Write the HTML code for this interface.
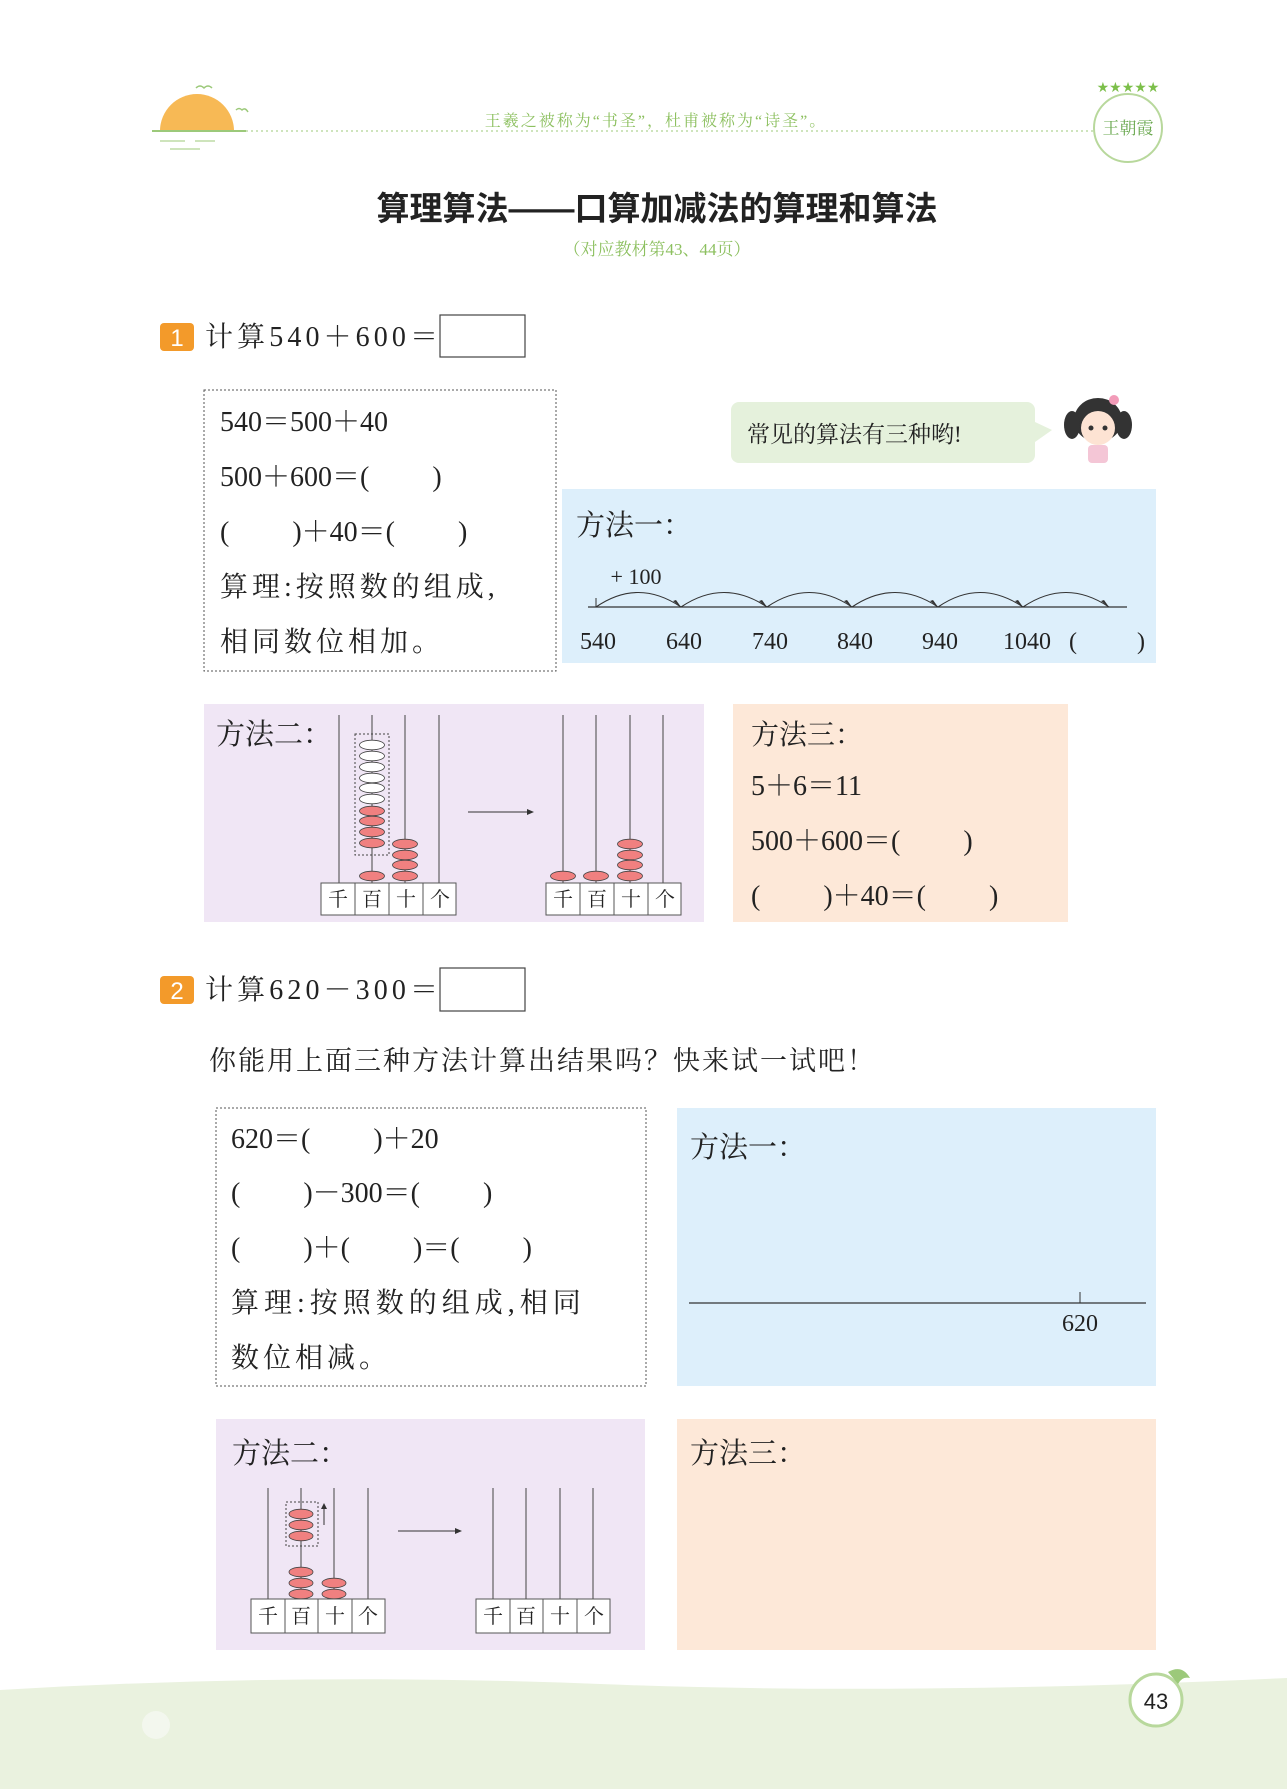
<!DOCTYPE html>
<html><head><meta charset="utf-8"><style>
html,body{margin:0;padding:0;background:#fff;}
svg{display:block;}
.s{font-family:"Liberation Serif","Noto Serif CJK SC",serif;}
.c{font-family:"Liberation Serif","Noto Serif CJK SC",serif;}
</style></head><body>
<svg width="1287" height="1789" viewBox="0 0 1287 1789" xmlns="http://www.w3.org/2000/svg">
<path d="M0 1690 Q300 1672 600 1684 T1287 1678 L1287 1789 L0 1789 Z" fill="#eaf2df"/>
<circle cx="156" cy="1725" r="14" fill="#f3f7ee"/>
<circle cx="1156" cy="1700" r="26" fill="#fff" stroke="#b8d89c" stroke-width="3"/>
<text x="1156" y="1709" font-family="Liberation Sans,sans-serif" font-size="22" text-anchor="middle" fill="#222">43</text>
<path d="M1168 1672 q14 -8 22 6 q-8 -2 -12 6z" fill="#9cc97a"/>

<path d="M160 131 A37 37 0 0 1 234 131 Z" fill="#f7b955"/>
<line x1="152" y1="131" x2="246" y2="131" stroke="#9cc97a" stroke-width="2"/>
<line x1="160" y1="141" x2="185" y2="141" stroke="#9cc97a"/><line x1="195" y1="141" x2="215" y2="141" stroke="#9cc97a"/>
<line x1="170" y1="149" x2="200" y2="149" stroke="#9cc97a"/>
<path d="M196 88 q4 -4 8 0 q4 -4 8 0" fill="none" stroke="#9cc97a" stroke-width="1.5"/>
<path d="M236 110 q3 -3 6 0 q3 -3 6 2" fill="none" stroke="#9cc97a" stroke-width="1.5"/>
<line x1="246" y1="131" x2="1095" y2="131" stroke="#9cc97a" stroke-dasharray="2,3"/>
<text x="656" y="126" class="s" font-size="16" text-anchor="middle" fill="#8dc060" letter-spacing="2">王羲之被称为“书圣”，杜甫被称为“诗圣”。</text>
<circle cx="1128" cy="128" r="34" fill="none" stroke="#b8d89c" stroke-width="2"/>
<text x="1128" y="134" class="s" font-size="17" text-anchor="middle" fill="#6aa84f">王朝霞</text>
<text x="1128" y="92" font-size="14" text-anchor="middle" fill="#7cbf4a">★★★★★</text>

<text x="657" y="220" font-family="Liberation Sans,'Noto Sans CJK SC',sans-serif" font-weight="bold" font-size="33" text-anchor="middle" fill="#222">算理算法——口算加减法的算理和算法</text>
<text x="657" y="255" class="s" font-size="17" text-anchor="middle" fill="#8dc060">（对应教材第43、44页）</text>

<rect x="160" y="323" width="34" height="28" rx="4" fill="#f39a2a"/>
<text x="177" y="346" font-family="Liberation Sans,sans-serif" font-size="24" text-anchor="middle" fill="#fff">1</text>
<text x="205" y="346" class="s" font-size="28" fill="#222" textLength="233">计算540＋600＝</text>
<rect x="440" y="315" width="85" height="42" fill="#fff" stroke="#444" stroke-width="1.2"/>

<rect x="204" y="390" width="352" height="281" fill="none" stroke="#555" stroke-dasharray="2,2"/>
<g class="s" font-size="28" fill="#222">
<text x="220" y="431">540＝500＋40</text>
<text x="220" y="486">500＋600＝(　　 )</text>
<text x="220" y="541">(　　 )＋40＝(　　 )</text>
<text x="220" y="596" letter-spacing="4">算理:按照数的组成,</text>
<text x="220" y="651" letter-spacing="4">相同数位相加。</text>
</g>

<rect x="731" y="402" width="304" height="61" rx="8" fill="#e5f1dc"/>
<path d="M1035 422 L1052 430 L1035 442 Z" fill="#e5f1dc"/>
<text x="747" y="442" class="s" font-size="23" fill="#222">常见的算法有三种哟!</text>
<ellipse cx="1098" cy="420" rx="24" ry="22" fill="#333"/>
<ellipse cx="1098" cy="428" rx="17" ry="17" fill="#fde3d3"/>
<ellipse cx="1072" cy="425" rx="8" ry="14" fill="#333"/><ellipse cx="1124" cy="425" rx="8" ry="14" fill="#333"/>
<circle cx="1091" cy="428" r="2.5" fill="#333"/><circle cx="1105" cy="428" r="2.5" fill="#333"/>
<rect x="1088" y="445" width="20" height="18" rx="4" fill="#f4c6d6"/>
<circle cx="1114" cy="400" r="5" fill="#f29bb8"/>

<rect x="562" y="489" width="594" height="174" fill="#ddeffb"/>
<text x="576" y="535" class="s" font-size="29" fill="#222">方法一：</text>
<text x="636" y="584" class="c" font-size="22" text-anchor="middle" fill="#222">+ 100</text>
<line x1="588" y1="607" x2="1127" y2="607" stroke="#333" stroke-width="1.2"/>
<line x1="596" y1="598" x2="596" y2="607" stroke="#333"/>
<g fill="none" stroke="#333" stroke-width="1.1">
<path d="M596 607 Q638 578 681 607"/><path d="M681 607 Q724 578 767 607"/><path d="M767 607 Q809 578 852 607"/>
<path d="M852 607 Q895 578 938 607"/><path d="M938 607 Q980 578 1023 607"/><path d="M1023 607 Q1066 578 1109 607"/>
</g>
<g fill="#333">
<path d="M681 607 l-8 -6 l3 -1z"/><path d="M767 607 l-8 -6 l3 -1z"/><path d="M852 607 l-8 -6 l3 -1z"/>
<path d="M938 607 l-8 -6 l3 -1z"/><path d="M1023 607 l-8 -6 l3 -1z"/><path d="M1109 607 l-8 -6 l3 -1z"/>
</g>
<g class="c" font-size="24" fill="#222" text-anchor="middle">
<text x="598" y="649">540</text><text x="684" y="649">640</text><text x="770" y="649">740</text>
<text x="855" y="649">840</text><text x="940" y="649">940</text><text x="1027" y="649">1040</text>
<text x="1073" y="649">(</text><text x="1141" y="649">)</text>
</g>

<rect x="204" y="704" width="500" height="218" fill="#f0e6f5"/>
<text x="216" y="744" class="s" font-size="29" fill="#222">方法二：</text>
<g stroke="#444" stroke-width="1">
<line x1="339" y1="715" x2="339" y2="883"/><line x1="372" y1="715" x2="372" y2="883"/>
<line x1="405" y1="715" x2="405" y2="883"/><line x1="439" y1="715" x2="439" y2="883"/>
<line x1="563" y1="715" x2="563" y2="883"/><line x1="596" y1="715" x2="596" y2="883"/>
<line x1="630" y1="715" x2="630" y2="883"/><line x1="663" y1="715" x2="663" y2="883"/>
</g>
<rect x="355" y="734" width="34" height="121" fill="none" stroke="#444" stroke-dasharray="2,2"/>
<g stroke="#444" stroke-width="0.8">
<g fill="#fff">
<ellipse cx="372" cy="745" rx="12.5" ry="4.8"/><ellipse cx="372" cy="756" rx="12.5" ry="4.8"/><ellipse cx="372" cy="767" rx="12.5" ry="4.8"/>
<ellipse cx="372" cy="778" rx="12.5" ry="4.8"/><ellipse cx="372" cy="788" rx="12.5" ry="4.8"/><ellipse cx="372" cy="799" rx="12.5" ry="4.8"/>
</g>
<g fill="#f08080">
<ellipse cx="372" cy="811" rx="12.5" ry="4.8"/><ellipse cx="372" cy="821" rx="12.5" ry="4.8"/><ellipse cx="372" cy="832" rx="12.5" ry="4.8"/><ellipse cx="372" cy="843" rx="12.5" ry="4.8"/>
<ellipse cx="372" cy="876" rx="12.5" ry="4.8"/>
<ellipse cx="405" cy="844" rx="12.5" ry="4.8"/><ellipse cx="405" cy="855" rx="12.5" ry="4.8"/><ellipse cx="405" cy="865" rx="12.5" ry="4.8"/><ellipse cx="405" cy="876" rx="12.5" ry="4.8"/>
<ellipse cx="563" cy="876" rx="12.5" ry="4.8"/><ellipse cx="596" cy="876" rx="12.5" ry="4.8"/>
<ellipse cx="630" cy="844" rx="12.5" ry="4.8"/><ellipse cx="630" cy="855" rx="12.5" ry="4.8"/><ellipse cx="630" cy="865" rx="12.5" ry="4.8"/><ellipse cx="630" cy="876" rx="12.5" ry="4.8"/>
</g>
</g>
<line x1="468" y1="812" x2="532" y2="812" stroke="#333"/><path d="M534 812 l-7 -3 v6z" fill="#333"/>
<g fill="#fff" stroke="#555">
<rect x="321" y="883" width="34" height="32"/><rect x="355" y="883" width="34" height="32"/><rect x="389" y="883" width="34" height="32"/><rect x="423" y="883" width="33" height="32"/>
<rect x="546" y="883" width="34" height="32"/><rect x="580" y="883" width="34" height="32"/><rect x="614" y="883" width="34" height="32"/><rect x="648" y="883" width="33" height="32"/>
</g>
<g class="s" font-size="20" fill="#222" text-anchor="middle">
<text x="338" y="906">千</text><text x="372" y="906">百</text><text x="406" y="906">十</text><text x="440" y="906">个</text>
<text x="563" y="906">千</text><text x="597" y="906">百</text><text x="631" y="906">十</text><text x="665" y="906">个</text>
</g>

<rect x="733" y="704" width="335" height="218" fill="#fde8d8"/>
<g class="s" font-size="28" fill="#222">
<text x="751" y="744">方法三：</text>
<text x="751" y="795">5＋6＝11</text>
<text x="751" y="850">500＋600＝(　　 )</text>
<text x="751" y="905">(　　 )＋40＝(　　 )</text>
</g>

<rect x="160" y="976" width="34" height="28" rx="4" fill="#f39a2a"/>
<text x="177" y="999" font-family="Liberation Sans,sans-serif" font-size="24" text-anchor="middle" fill="#fff">2</text>
<text x="205" y="999" class="s" font-size="28" fill="#222" textLength="233">计算620－300＝</text>
<rect x="440" y="968" width="85" height="43" fill="#fff" stroke="#444" stroke-width="1.2"/>
<text x="209" y="1070" class="s" font-size="27" fill="#222" letter-spacing="2">你能用上面三种方法计算出结果吗？快来试一试吧！</text>

<rect x="216" y="1108" width="430" height="278" fill="none" stroke="#555" stroke-dasharray="2,2"/>
<g class="s" font-size="28" fill="#222">
<text x="231" y="1148">620＝(　　 )＋20</text>
<text x="231" y="1202">(　　 )－300＝(　　 )</text>
<text x="231" y="1257">(　　 )＋(　　 )＝(　　 )</text>
<text x="231" y="1312" letter-spacing="5">算理:按照数的组成,相同</text>
<text x="231" y="1367" letter-spacing="4">数位相减。</text>
</g>

<rect x="677" y="1108" width="479" height="278" fill="#ddeffb"/>
<text x="690" y="1157" class="s" font-size="29" fill="#222">方法一：</text>
<line x1="689" y1="1303" x2="1146" y2="1303" stroke="#333" stroke-width="1.2"/>
<line x1="1080" y1="1292" x2="1080" y2="1303" stroke="#333"/>
<text x="1080" y="1331" class="c" font-size="24" text-anchor="middle" fill="#222">620</text>

<rect x="216" y="1419" width="429" height="231" fill="#f0e6f5"/>
<text x="232" y="1463" class="s" font-size="29" fill="#222">方法二：</text>
<g stroke="#444" stroke-width="1">
<line x1="268" y1="1488" x2="268" y2="1599"/><line x1="301" y1="1488" x2="301" y2="1599"/>
<line x1="334" y1="1488" x2="334" y2="1599"/><line x1="368" y1="1488" x2="368" y2="1599"/>
<line x1="493" y1="1488" x2="493" y2="1599"/><line x1="526" y1="1488" x2="526" y2="1599"/>
<line x1="560" y1="1488" x2="560" y2="1599"/><line x1="593" y1="1488" x2="593" y2="1599"/>
</g>
<rect x="286" y="1502" width="32" height="44" fill="none" stroke="#444" stroke-dasharray="2,2"/>
<line x1="324" y1="1525" x2="324" y2="1506" stroke="#333"/><path d="M324 1503 l-3 6 h6z" fill="#333"/>
<g stroke="#444" stroke-width="0.8" fill="#f08080">
<ellipse cx="301" cy="1514" rx="12" ry="4.8"/><ellipse cx="301" cy="1525" rx="12" ry="4.8"/><ellipse cx="301" cy="1536" rx="12" ry="4.8"/>
<ellipse cx="301" cy="1572" rx="12" ry="4.8"/><ellipse cx="301" cy="1583" rx="12" ry="4.8"/><ellipse cx="301" cy="1594" rx="12" ry="4.8"/>
<ellipse cx="334" cy="1583" rx="12" ry="4.8"/><ellipse cx="334" cy="1594" rx="12" ry="4.8"/>
</g>
<line x1="398" y1="1531" x2="460" y2="1531" stroke="#333"/><path d="M462 1531 l-7 -3 v6z" fill="#333"/>
<g fill="#fff" stroke="#555">
<rect x="251" y="1599" width="34" height="34"/><rect x="285" y="1599" width="33" height="34"/><rect x="318" y="1599" width="34" height="34"/><rect x="352" y="1599" width="33" height="34"/>
<rect x="476" y="1599" width="34" height="34"/><rect x="510" y="1599" width="33" height="34"/><rect x="543" y="1599" width="34" height="34"/><rect x="577" y="1599" width="33" height="34"/>
</g>
<g class="s" font-size="20" fill="#222" text-anchor="middle">
<text x="268" y="1623">千</text><text x="301" y="1623">百</text><text x="335" y="1623">十</text><text x="368" y="1623">个</text>
<text x="493" y="1623">千</text><text x="526" y="1623">百</text><text x="560" y="1623">十</text><text x="594" y="1623">个</text>
</g>

<rect x="677" y="1419" width="479" height="231" fill="#fde8d8"/>
<text x="690" y="1463" class="s" font-size="29" fill="#222">方法三：</text>
</svg>
</body></html>
